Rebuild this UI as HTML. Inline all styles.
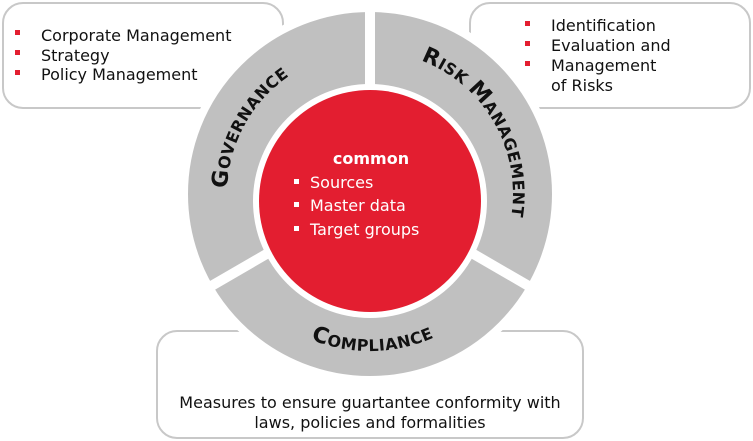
<!DOCTYPE html>
<html><head><meta charset="utf-8"><style>
body{margin:0;width:753px;height:441px;background:#fff;overflow:hidden}
svg{display:block}
</style></head><body>
<svg width="753" height="441" viewBox="0 0 753 441" xmlns="http://www.w3.org/2000/svg" font-family="DejaVu Sans, Liberation Sans, sans-serif">
<rect x="3" y="3" width="280" height="105" rx="20" fill="#fff" stroke="#c8c8c8" stroke-width="2"/>
<rect x="470" y="3" width="280" height="105" rx="20" fill="#fff" stroke="#c8c8c8" stroke-width="2"/>
<rect x="157" y="331" width="426" height="107" rx="20" fill="#fff" stroke="#c8c8c8" stroke-width="2"/>
<circle cx="370" cy="194" r="186" fill="#c0c0c0" stroke="#fff" stroke-width="8"/>
<g stroke="#fff" stroke-width="10">
<line x1="370" y1="194" x2="370" y2="0"/>
<line x1="370" y1="194" x2="201" y2="292"/>
<line x1="370" y1="194" x2="539" y2="292"/>
</g>
<circle cx="370" cy="201" r="117" fill="#fff"/>
<circle cx="370" cy="201" r="111" fill="#e31e30"/>
<defs>
<path id="gov" d="M247.4,267.7 A143,143 0 0 1 367.5,51"/>
<path id="risk" d="M370,51 A143,143 0 0 1 493.8,265.5"/>
<path id="comp" d="M235.4,274.9 A157,157 0 0 0 507.3,270.1"/>
</defs>
<g font-family="DejaVu Sans, sans-serif" font-weight="bold" fill="#111" font-size="16" letter-spacing="0.5">
<text><textPath href="#gov" startOffset="50%" text-anchor="middle"><tspan font-size="22">G</tspan>OVERNANCE</textPath></text>
<text><textPath href="#risk" startOffset="50%" text-anchor="middle"><tspan font-size="22">R</tspan>ISK <tspan font-size="22">M</tspan>ANAGEMENT</textPath></text>
<text><textPath href="#comp" startOffset="50%" text-anchor="middle"><tspan font-size="22">C</tspan>OMPLIANCE</textPath></text>
</g>
<g font-size="16" fill="#111">
<rect x="15" y="30" width="5" height="5" fill="#e31e30"/><text x="41" y="41">Corporate Management</text>
<rect x="15" y="50" width="5" height="5" fill="#e31e30"/><text x="41" y="61">Strategy</text>
<rect x="15" y="70" width="5" height="5" fill="#e31e30"/><text x="41" y="80">Policy Management</text>
<rect x="525" y="21" width="5" height="5" fill="#e31e30"/><text x="551" y="31">Identification</text>
<rect x="525" y="41" width="5" height="5" fill="#e31e30"/><text x="551" y="51">Evaluation and</text>
<rect x="525" y="61" width="5" height="5" fill="#e31e30"/><text x="551" y="71">Management</text>
<text x="551" y="91">of Risks</text>
<text x="370" y="408" text-anchor="middle">Measures to ensure guartantee conformity with</text>
<text x="370" y="428" text-anchor="middle">laws, policies and formalities</text>
</g>
<g fill="#fff" font-size="16">
<text x="371" y="164" text-anchor="middle" font-weight="bold">common</text>
<rect x="294" y="179" width="5" height="5"/><text x="310" y="188">Sources</text>
<rect x="294" y="202" width="5" height="5"/><text x="310" y="211">Master data</text>
<rect x="294" y="226" width="5" height="5"/><text x="310" y="235">Target groups</text>
</g>
</svg>
</body></html>
